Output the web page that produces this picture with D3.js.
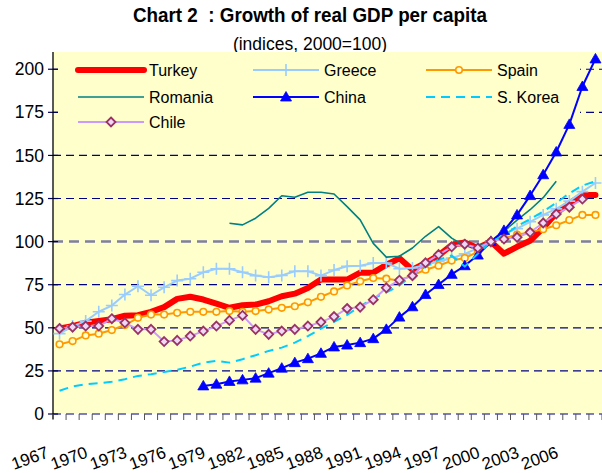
<!DOCTYPE html>
<html><head><meta charset="utf-8">
<script src="https://cdn.jsdelivr.net/npm/d3@7"></script>
<style>
html,body{margin:0;padding:0;background:#fff;}
svg{display:block;font-family:Arial,"Liberation Sans",sans-serif;}
</style></head>
<body><svg id="c" width="602" height="473"></svg>
<script>
const years = [1967,1968,1969,1970,1971,1972,1973,1974,1975,1976,1977,1978,1979,1980,1981,1982,1983,1984,1985,1986,1987,1988,1989,1990,1991,1992,1993,1994,1995,1996,1997,1998,1999,2000,2001,2002,2003,2004,2005,2006,2007,2008];
const xTickLabels = ["1967","1970","1973","1976","1979","1982","1985","1988","1991","1994","1997","2000","2003","2006"];
const yTicks = [0,25,50,75,100,125,150,175,200];

const turkey = [49.6,51,53,54,55,57,57.3,59.3,62,66.8,68,66.4,64,61.6,63.1,63.5,65.4,68.3,69.8,73.1,78,78,78,82,82,86.6,90.3,83.7,87.6,92,98,99.5,96.3,100,93,97,100.5,108,116.5,122.3,127,127];
const greece = [46.6,51,53.9,59.3,62.9,69.3,74.1,68.9,73.5,77.4,78.5,82.2,84.3,84.3,82.2,80.3,79.3,80.4,82.8,82.8,80.3,83.5,85.7,86,87.6,87.6,84.3,84.7,86.5,88.5,90.4,92.9,96.2,100,104.5,107.5,111.5,115.5,119,123.5,129,134];
const spain = [40.4,42.3,45.6,46.6,48.7,51.6,55.8,57.7,57.7,58.7,59.3,59.3,59.3,59.7,59.3,59.7,60.6,61.6,62.5,64.8,68,71.1,74.6,77,78.9,78.5,77.5,80.5,83.7,86,89,90.5,94,100,102,104,105.5,107.2,109.5,112.5,115.5,115.5];
const romania = [null,null,null,null,null,null,null,null,null,null,null,null,null,110.7,109.7,113.6,119.3,126.6,125.7,128.6,128.6,127.6,120.3,112.6,99,91,91.5,96.3,103.1,108.7,102,97.5,97.5,100,106,112.5,118.5,125.5,135,null,null,null];
const china = [null,null,null,null,null,null,null,null,null,null,null,16.3,17.3,18.9,19.8,20.8,23.7,26.6,29.8,32.1,35.2,38.9,40,41.4,43.7,49.1,56.2,62.2,69.3,75.1,81,86,92.2,100,106.5,115.5,126.7,138.8,152,168,190,206];
const korea = [13.5,16,17.3,17.9,18.7,20.2,22.1,23.1,24.4,25.6,27.5,29.8,30.8,29.8,31.8,34.1,36.6,38.5,41.4,45.2,49.5,53.5,57.5,62.5,67,70.5,74.5,80.5,85.5,89.5,92,85.5,93,100,103.5,109,113,117.5,122.5,128,132.5,135];
const chile = [49.6,50.4,51,51,55.3,52.9,49.1,49.1,42,42.7,45.2,48.1,51,54.3,57.2,49.1,46.2,48.1,49.1,51,53.3,56.5,61.2,62,66.3,73.2,77.6,80.2,87.7,92.5,97,98.5,96.3,100,101.5,102.5,105.4,110.8,116,120,124.7,null];

const seriesNames = ["Turkey","Greece","Spain","Romania","China","S. Korea","Chile"];
const seriesValues = [turkey, greece, spain, romania, china, korea, chile];

const styles = {
  "Turkey":  {color:"#FF0000", width:6, dash:null, marker:null},
  "Greece":  {color:"#99CCFF", width:2, dash:null, marker:"plus"},
  "Spain":   {color:"#FF9900", width:2, dash:null, marker:"circle"},
  "Romania": {color:"#008080", width:1.6, dash:null, marker:null},
  "China":   {color:"#0000FF", width:2, dash:null, marker:"triangle"},
  "S. Korea":{color:"#00CCFF", width:2, dash:"9,6", marker:null},
  "Chile":   {color:"#CC99FF", width:2, dash:null, marker:"diamond"}
};

const svg = d3.select("#c");
const L = 53, R = 602, T = 52, B = 414;
const x = d3.scaleBand().domain(years).range([L, R]).paddingInner(0).paddingOuter(0);
const cx = d => x(d) + x.bandwidth()/2;
const y = d3.scaleLinear().domain([0,210]).range([B, T]);

// title
svg.append("text").attr("x",310).attr("y",22).attr("text-anchor","middle")
  .attr("textLength",354).attr("lengthAdjust","spacingAndGlyphs")
  .style("font-weight","bold").style("font-size","20px").style("white-space","pre")
  .text("Chart 2  : Growth of real GDP per capita");
svg.append("text").attr("x",310).attr("y",50).attr("text-anchor","middle")
  .style("font-size","17.5px").text("(indices, 2000=100)");

// plot background
svg.append("rect").attr("x",L).attr("y",T).attr("width",R-L).attr("height",B-T).attr("fill","#FFFFCC");

// gridlines
svg.append("g").selectAll("line").data(yTicks).join("line")
  .attr("x1",L).attr("x2",R).attr("y1",d=>y(d)).attr("y2",d=>y(d))
  .attr("stroke",d=>d===100?"#7F7F9F":"#000080")
  .attr("stroke-width",d=>d===100?2.5:1.2)
  .attr("stroke-dasharray",d=>d===100?"10,6":"8,5");

// legend background (hides gridlines beneath it, series drawn over)
svg.append("rect").attr("x",58).attr("y",55).attr("width",522).attr("height",80).attr("fill","#FFFFCC");

// y axis
const yAxis = d3.axisLeft(y).tickValues(yTicks).tickSize(0).tickPadding(9);
const gy = svg.append("g").attr("transform",`translate(${L},0)`).call(yAxis);
gy.select(".domain").remove();
gy.selectAll("text").style("font-size","17.5px").attr("fill","#000").attr("font-family","Arial, 'Liberation Sans', sans-serif");
svg.append("g").selectAll("line").data(yTicks).join("line")
  .attr("x1",L-5).attr("x2",L+5).attr("y1",d=>y(d)).attr("y2",d=>y(d))
  .attr("stroke","#000060").attr("stroke-width",1.2);
svg.append("line").attr("x1",L).attr("x2",L).attr("y1",T).attr("y2",B+5).attr("stroke","#000").attr("stroke-width",1.3);

// x axis ticks at category boundaries
const bounds = years.map(d => x(d)).concat([R]);
svg.append("g").selectAll("line").data(bounds).join("line")
  .attr("x1",d=>d).attr("x2",d=>d).attr("y1",B).attr("y2",B+6)
  .attr("stroke","#555").attr("stroke-width",1);

// x labels
svg.append("g").selectAll("text").data(xTickLabels).join("text")
  .attr("transform",d=>`translate(${cx(+d)-10},457) rotate(-20)`)
  .attr("text-anchor","end").style("font-size","17px").text(d=>d);

// series
const line = d3.line().defined(d=>d.v!==null).x(d=>cx(d.yr)).y(d=>y(d.v));
const gs = svg.append("g");
seriesNames.forEach((name,i)=>{
  const st = styles[name];
  const pts = years.map((yr,j)=>({yr, v: seriesValues[i][j]}));
  gs.append("path").datum(pts).attr("d",line).attr("fill","none")
    .attr("stroke",st.color).attr("stroke-width",st.width)
    .attr("stroke-linejoin","round").attr("stroke-linecap",name==="Turkey"?"round":"butt")
    .attr("stroke-dasharray",st.dash);
  const valid = pts.filter(d=>d.v!==null);
  drawMarkers(gs, valid.map(d=>[cx(d.yr), y(d.v)]), st);
});

function drawMarkers(g, coords, st){
  if(!st.marker) return;
  const mg = g.append("g");
  coords.forEach(([px,py])=>{
    if(st.marker==="plus"){
      mg.append("path").attr("d",`M${px-6},${py}H${px+6}M${px},${py-6}V${py+6}`)
        .attr("stroke",st.color).attr("stroke-width",1.6).attr("fill","none");
    } else if(st.marker==="circle"){
      mg.append("circle").attr("cx",px).attr("cy",py).attr("r",3.3)
        .attr("fill","#FFFFCC").attr("stroke",st.color).attr("stroke-width",1.6);
    } else if(st.marker==="triangle"){
      mg.append("path").attr("d",`M${px},${py-5.5}L${px+5.5},${py+4}L${px-5.5},${py+4}Z`)
        .attr("fill",st.color).attr("stroke",st.color).attr("stroke-width",0.8);
    } else if(st.marker==="diamond"){
      mg.append("path").attr("d",`M${px},${py-4.5}L${px+4.5},${py}L${px},${py+4.5}L${px-4.5},${py}Z`)
        .attr("fill","#EED8F5").attr("stroke","#993366").attr("stroke-width",1.8);
    }
  });
}

// legend entries
const lg = svg.append("g");
const colX = [78,253,426];
const rowY = [70,97,122];
seriesNames.forEach((name,i)=>{
  const c = i%3, r = Math.floor(i/3);
  const x0 = colX[c], yy = rowY[r], st = styles[name];
  lg.append("line").attr("x1",x0).attr("x2",x0+66).attr("y1",yy).attr("y2",yy)
    .attr("stroke",st.color).attr("stroke-width",st.width)
    .attr("stroke-linecap",name==="Turkey"?"round":"butt")
    .attr("stroke-dasharray",st.dash);
  drawMarkers(lg, [[x0+33,yy]], st);
  lg.append("text").attr("x",x0+71).attr("y",yy+6).style("font-size","16px").text(name);
});
</script></body></html>
